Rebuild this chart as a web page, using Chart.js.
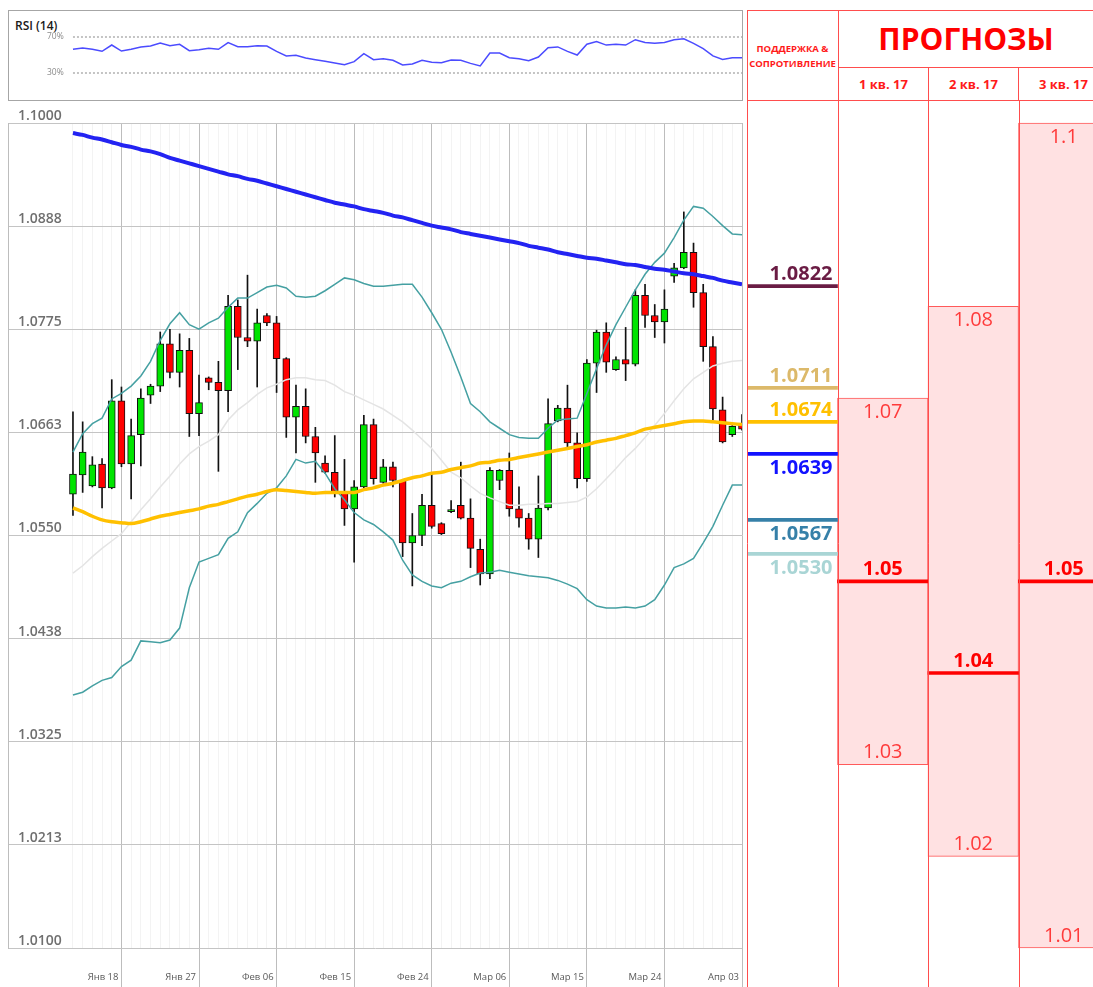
<!DOCTYPE html>
<html lang="ru">
<head>
<meta charset="utf-8">
<title>EUR/USD — поддержка, сопротивление и прогнозы</title>
<script src="https://cdn.jsdelivr.net/npm/chart.js@4.4.1/dist/chart.umd.min.js"></script>
<style>
html, body { margin: 0; padding: 0; background: #fff; }
body { position: relative; width: 1093px; height: 987px; overflow: hidden; font-family: 'Open Sans', 'DejaVu Sans', sans-serif; }
canvas { position: absolute; }
#rsiBox { position: absolute; left: 8px; top: 10px; width: 733px; height: 89px; border: 1px solid #a6a6a6; }
#rsiTitle { position: absolute; left: 15px; top: 17px; font-size: 12px; font-weight: 600; color: #1a1a1a; }
#rsiChart { left: 0; top: 10px; }
#priceChart { left: 0; top: 100px; }
#levelsChart { left: 747px; top: 100px; }
.cell { position: absolute; box-sizing: border-box; display: flex; align-items: center; justify-content: center; text-align: center; color: #ff1a1a; font-weight: 700; border: 0 solid #ff4d4d; }
#hdrFrame { left: 747px; top: 10px; width: 360px; height: 91px; border-width: 1px 0 1px 1px; }
#hdrSR { left: 747px; top: 10px; width: 91px; height: 91px; font-size: 9.5px; line-height: 15px; padding: 0 2px; }
#hdrMain { left: 838px; top: 10px; width: 255px; height: 58px; border-width: 0 0 1px 1px; font-size: 30px; color: #ff0000; }
.hdrQ { top: 67px; width: 90px; height: 34px; border-width: 0 0 0 1px; font-size: 13px; }
</style>
</head>
<body>
<div id="rsiBox"></div>
<div id="rsiTitle">RSI (14)</div>
<canvas id="rsiChart" width="745" height="91"></canvas>
<canvas id="priceChart" width="745" height="887"></canvas>
<div class="cell" id="hdrFrame"></div>
<div class="cell" id="hdrSR"></div>
<div class="cell" id="hdrMain">ПРОГНОЗЫ</div>
<div id="hdrQuarters"></div>
<canvas id="levelsChart" width="362" height="887"></canvas>
<script>
const xTickIndex = [5, 13, 21, 29, 37, 45, 53, 61, 69];
const xTickLabels = ['Янв 18', 'Янв 27', 'Фев 06', 'Фев 15', 'Фев 24', 'Мар 06', 'Мар 15', 'Мар 24', 'Апр 03'];
const yTickValues = [1.01, 1.02125, 1.0325, 1.04375, 1.055, 1.06625, 1.0775, 1.08875, 1.1];
const yTickLabels = ['1.0100', '1.0213', '1.0325', '1.0438', '1.0550', '1.0663', '1.0775', '1.0888', '1.1000'];

const open = [
	1.0595, 1.0616, 1.0604, 1.0628, 1.0602, 1.0697, 1.0628, 1.0660, 1.0703, 1.0713,
	1.0759, 1.0728, 1.0752, 1.0683, 1.0722, 1.0717, 1.0708, 1.0800, 1.0766, 1.0762,
	1.0790, 1.0782, 1.0743, 1.0679, 1.0691, 1.0658, 1.0629, 1.0619, 1.0598, 1.0579,
	1.0603, 1.0671, 1.0608, 1.0625, 1.0610, 1.0542, 1.0550, 1.0583, 1.0563, 1.0576,
	1.0583, 1.0569, 1.0535, 1.0508, 1.0610, 1.0621, 1.0579, 1.0569, 1.0546, 1.0580,
	1.0675, 1.0689, 1.0651, 1.0612, 1.0738, 1.0772, 1.0731, 1.0742, 1.0737, 1.0812,
	1.0790, 1.0783, 1.0833, 1.0842, 1.0859, 1.0815, 1.0756, 1.0687, 1.0660, 1.0671
];
const high = [
	1.0685, 1.0674, 1.0636, 1.0634, 1.0720, 1.0712, 1.0677, 1.0710, 1.0715, 1.0772,
	1.0775, 1.0770, 1.0765, 1.0725, 1.0723, 1.0740, 1.0812, 1.0807, 1.0834, 1.0797,
	1.0792, 1.0789, 1.0744, 1.0714, 1.0710, 1.0668, 1.0637, 1.0659, 1.0633, 1.0610,
	1.0681, 1.0677, 1.0633, 1.0630, 1.0610, 1.0574, 1.0595, 1.0618, 1.0564, 1.0588,
	1.0630, 1.0590, 1.0546, 1.0624, 1.0622, 1.0640, 1.0603, 1.0574, 1.0615, 1.0699,
	1.0692, 1.0714, 1.0662, 1.0742, 1.0774, 1.0782, 1.0745, 1.0777, 1.0818, 1.0824,
	1.0802, 1.0818, 1.0847, 1.0903, 1.0869, 1.0824, 1.0767, 1.0701, 1.0670, 1.0682
];
const low = [
	1.0572, 1.0597, 1.0603, 1.0580, 1.0601, 1.0625, 1.0590, 1.0626, 1.0694, 1.0707,
	1.0722, 1.0712, 1.0658, 1.0659, 1.0709, 1.0620, 1.0685, 1.0731, 1.0756, 1.0712,
	1.0779, 1.0706, 1.0657, 1.0640, 1.0651, 1.0608, 1.0618, 1.0592, 1.0561, 1.0521,
	1.0602, 1.0606, 1.0607, 1.0603, 1.0527, 1.0495, 1.0539, 1.0558, 1.0551, 1.0575,
	1.0568, 1.0515, 1.0496, 1.0503, 1.0600, 1.0571, 1.0559, 1.0535, 1.0526, 1.0578,
	1.0674, 1.0646, 1.0602, 1.0609, 1.0706, 1.0728, 1.0730, 1.0719, 1.0735, 1.0777,
	1.0766, 1.0760, 1.0826, 1.0841, 1.0799, 1.0740, 1.0676, 1.0651, 1.0658, 1.0665
];
const close = [
	1.0617, 1.0641, 1.0627, 1.0602, 1.0697, 1.0628, 1.0659, 1.0700, 1.0713, 1.0759,
	1.0728, 1.0752, 1.0683, 1.0695, 1.0717, 1.0708, 1.0800, 1.0766, 1.0762, 1.0782,
	1.0782, 1.0743, 1.0679, 1.0691, 1.0658, 1.0640, 1.0619, 1.0598, 1.0579, 1.0603,
	1.0671, 1.0612, 1.0625, 1.0610, 1.0542, 1.0550, 1.0583, 1.0560, 1.0552, 1.0576,
	1.0569, 1.0536, 1.0508, 1.0621, 1.0621, 1.0579, 1.0569, 1.0546, 1.0580, 1.0672,
	1.0689, 1.0651, 1.0612, 1.0738, 1.0772, 1.0739, 1.0742, 1.0737, 1.0812, 1.0790,
	1.0783, 1.0797, 1.0842, 1.0859, 1.0815, 1.0756, 1.0688, 1.0652, 1.0669, 1.0666
];
const smaLong = [
	1.0989, 1.0987, 1.0984, 1.0982, 1.0979, 1.0976, 1.0974, 1.0971, 1.0969, 1.0966,
	1.0962, 1.0959, 1.0956, 1.0953, 1.0950, 1.0947, 1.0944, 1.0942, 1.0939, 1.0937,
	1.0934, 1.0931, 1.0928, 1.0925, 1.0922, 1.0919, 1.0916, 1.0913, 1.0911, 1.0909,
	1.0906, 1.0904, 1.0902, 1.0899, 1.0897, 1.0894, 1.0891, 1.0888, 1.0886, 1.0884,
	1.0881, 1.0879, 1.0877, 1.0875, 1.0873, 1.0871, 1.0869, 1.0866, 1.0864, 1.0862,
	1.0859, 1.0857, 1.0855, 1.0853, 1.0852, 1.0850, 1.0848, 1.0846, 1.0845, 1.0843,
	1.0841, 1.0840, 1.0838, 1.0836, 1.0835, 1.0833, 1.0831, 1.0828, 1.0826, 1.0824
];
const smaMid = [
	1.0580, 1.0576, 1.0571, 1.0567, 1.0565, 1.0564, 1.0563, 1.0565, 1.0568, 1.0571,
	1.0573, 1.0575, 1.0577, 1.0579, 1.0582, 1.0584, 1.0587, 1.0590, 1.0593, 1.0595,
	1.0598, 1.0600, 1.0599, 1.0598, 1.0597, 1.0596, 1.0597, 1.0597, 1.0597, 1.0597,
	1.0600, 1.0602, 1.0605, 1.0607, 1.0610, 1.0613, 1.0615, 1.0618, 1.0619, 1.0622,
	1.0624, 1.0626, 1.0629, 1.0630, 1.0632, 1.0633, 1.0635, 1.0637, 1.0639, 1.0641,
	1.0643, 1.0645, 1.0647, 1.0649, 1.0652, 1.0654, 1.0656, 1.0659, 1.0662, 1.0666,
	1.0668, 1.0670, 1.0672, 1.0674, 1.0675, 1.0675, 1.0674, 1.0673, 1.0672, 1.0671
];
const bbUpper = [
	1.0641, 1.0661, 1.0672, 1.0678, 1.0699, 1.0705, 1.0713, 1.0724, 1.0740, 1.0763,
	1.0781, 1.0793, 1.0780, 1.0775, 1.0782, 1.0787, 1.0799, 1.0809, 1.0809, 1.0815,
	1.0821, 1.0823, 1.0820, 1.0811, 1.0810, 1.0811, 1.0817, 1.0824, 1.0831, 1.0829,
	1.0825, 1.0822, 1.0822, 1.0823, 1.0824, 1.0824, 1.0810, 1.0793, 1.0775, 1.0750,
	1.0723, 1.0694, 1.0685, 1.0674, 1.0667, 1.0660, 1.0657, 1.0656, 1.0656, 1.0667,
	1.0676, 1.0677, 1.0678, 1.0705, 1.0732, 1.0758, 1.0780, 1.0799, 1.0818, 1.0835,
	1.0848, 1.0858, 1.0875, 1.0894, 1.0909, 1.0907, 1.0898, 1.0888, 1.0879, 1.0878
];
const bbMiddle = [
	1.0509, 1.0517, 1.0527, 1.0536, 1.0544, 1.0552, 1.0565, 1.0578, 1.0590, 1.0603,
	1.0615, 1.0628, 1.0639, 1.0647, 1.0653, 1.0660, 1.0676, 1.0687, 1.0695, 1.0704,
	1.0711, 1.0715, 1.0720, 1.0722, 1.0722, 1.0720, 1.0719, 1.0714, 1.0707, 1.0703,
	1.0698, 1.0693, 1.0688, 1.0681, 1.0674, 1.0665, 1.0655, 1.0645, 1.0632, 1.0619,
	1.0613, 1.0604, 1.0596, 1.0591, 1.0587, 1.0583, 1.0583, 1.0584, 1.0584, 1.0585,
	1.0585, 1.0586, 1.0587, 1.0592, 1.0601, 1.0612, 1.0623, 1.0635, 1.0645, 1.0657,
	1.0670, 1.0683, 1.0697, 1.0710, 1.0721, 1.0728, 1.0735, 1.0738, 1.0740, 1.0741
];
const bbLower = [
	1.0376, 1.0379, 1.0386, 1.0392, 1.0395, 1.0407, 1.0414, 1.0435, 1.0434, 1.0433,
	1.0436, 1.0449, 1.0493, 1.0521, 1.0525, 1.0529, 1.0547, 1.0554, 1.0575, 1.0585,
	1.0596, 1.0602, 1.0615, 1.0633, 1.0629, 1.0631, 1.0618, 1.0601, 1.0589, 1.0575,
	1.0567, 1.0562, 1.0554, 1.0545, 1.0523, 1.0507, 1.0500, 1.0495, 1.0493, 1.0498,
	1.0500, 1.0505, 1.0509, 1.0510, 1.0512, 1.0510, 1.0508, 1.0506, 1.0505, 1.0504,
	1.0501, 1.0497, 1.0492, 1.0480, 1.0473, 1.0471, 1.0471, 1.0472, 1.0471, 1.0473,
	1.0480, 1.0496, 1.0515, 1.0519, 1.0525, 1.0542, 1.0560, 1.0583, 1.0605, 1.0605
];
const rsi = [
	56.3, 57.8, 56.3, 54.1, 61.1, 54.4, 56.3, 58.9, 60.0, 63.3,
	60.4, 61.9, 54.8, 55.9, 57.4, 56.3, 63.7, 59.3, 59.3, 60.4,
	60.0, 54.0, 48.9, 49.6, 46.7, 44.8, 43.0, 41.1, 39.3, 42.6,
	51.5, 44.8, 45.9, 44.1, 38.9, 40.0, 44.1, 41.9, 41.5, 44.4,
	44.1, 40.7, 37.8, 52.2, 52.2, 47.0, 45.9, 43.7, 47.8, 58.1,
	59.0, 54.0, 50.0, 62.0, 65.0, 61.0, 62.0, 61.0, 67.0, 64.0,
	63.0, 64.0, 67.0, 68.0, 63.0, 57.0, 49.0, 45.0, 47.0, 47.0
];
const rsiLevels = [70, 30];

const srHeader = 'ПОДДЕРЖКА & СОПРОТИВЛЕНИЕ';
const srLevels = [1.0822, 1.0711, 1.0674, 1.0639, 1.0567, 1.0530];
const srColors = ['#6a1c44', '#dcb96a', '#ffc000', '#1212ff', '#3680a8', '#a9d5d5'];
const forecastCols = ['1 кв. 17', '2 кв. 17', '3 кв. 17'];
const forecastHigh = [1.07, 1.08, 1.1];
const forecastMid = [1.05, 1.04, 1.05];
const forecastLow = [1.03, 1.02, 1.01];

const xMin = -6.7;
const xMax = 69;
const pts = arr => arr.map((v, i) => ({ x: i, y: v }));
// mirrored y labels must not reserve room above / below the plot
const flatAxis = s => { s.width = 0; s.paddingTop = 0; s.paddingBottom = 0; };

Chart.defaults.font.family = "'Open Sans', 'DejaVu Sans', sans-serif";

document.getElementById('hdrSR').textContent = srHeader;
forecastCols.forEach((name, i) => {
	const cell = document.createElement('div');
	cell.className = 'cell hdrQ';
	cell.style.left = (838 + i * 90) + 'px';
	cell.textContent = name;
	document.getElementById('hdrQuarters').appendChild(cell);
});

new Chart(document.getElementById('rsiChart'), {
	type: 'line',
	data: {
		datasets: [
			{ label: 'RSI (14)', data: pts(rsi), borderColor: '#4b4bff', borderWidth: 1.5, pointRadius: 0, tension: 0 },
			...rsiLevels.map(v => ({
				label: v + '%',
				data: [{ x: 0, y: v }, { x: rsi.length - 1, y: v }],
				borderColor: '#8a8a8a', borderWidth: 1, borderDash: [2, 2], pointRadius: 0
			}))
		]
	},
	options: {
		responsive: false,
		animation: false,
		layout: { padding: { left: 8, right: 3, top: 0, bottom: 1 } },
		plugins: { legend: { display: false }, tooltip: { enabled: false } },
		scales: {
			x: { type: 'linear', display: false, min: xMin, max: xMax },
			y: {
				min: 0, max: 100,
				afterFit: flatAxis,
				afterBuildTicks: s => { s.ticks = rsiLevels.map(v => ({ value: v })); },
				grid: { display: false },
				border: { display: false },
				ticks: { mirror: true, padding: 39, callback: v => v + '%', color: '#8a8a8a', font: { size: 8.5 } }
			}
		}
	}
});

const bodyColors = close.map((c, i) => c >= open[i] ? '#00e400' : '#ff0000');

new Chart(document.getElementById('priceChart'), {
	type: 'bar',
	data: {
		datasets: [
			{ type: 'line', label: 'SMA long', data: pts(smaLong), borderColor: '#2323f2', borderWidth: 4, pointRadius: 0, cubicInterpolationMode: 'monotone', order: 0 },
			{ type: 'line', label: 'SMA', data: pts(smaMid), borderColor: '#ffc000', borderWidth: 3.5, pointRadius: 0, cubicInterpolationMode: 'monotone', order: 0 },
			{ type: 'line', label: 'BB upper', data: pts(bbUpper), borderColor: '#45a0a2', borderWidth: 1.5, pointRadius: 0, tension: 0, order: 1 },
			{ type: 'line', label: 'BB lower', data: pts(bbLower), borderColor: '#45a0a2', borderWidth: 1.5, pointRadius: 0, tension: 0, order: 1 },
			{ type: 'line', label: 'BB middle', data: pts(bbMiddle), borderColor: '#e4e4e4', borderWidth: 1.5, pointRadius: 0, tension: 0, order: 1 },
			{
				label: 'body',
				data: open.map((o, i) => ({ x: i, y: [o, close[i]] })),
				backgroundColor: bodyColors,
				borderColor: '#111',
				borderWidth: 1,
				borderSkipped: false,
				barThickness: 7,
				minBarLength: 2,
				grouped: false,
				order: 2
			},
			{
				label: 'wick',
				data: low.map((l, i) => ({ x: i, y: [l, high[i]] })),
				backgroundColor: '#111',
				barThickness: 1,
				grouped: false,
				order: 3
			}
		]
	},
	options: {
		responsive: false,
		animation: false,
		layout: { padding: { left: 8, right: 3, top: 23, bottom: 0 } },
		plugins: { legend: { display: false }, tooltip: { enabled: false } },
		scales: {
			x: {
				type: 'linear',
				min: xMin, max: xMax,
				offset: false,
				afterFit: s => { s.height = 39; },
				afterBuildTicks: s => { s.ticks = open.map((_, i) => ({ value: i })); },
				grid: {
					offset: false,
					color: c => xTickIndex.includes(c.tick.value) ? '#bdbdbd' : '#f3f3f3',
					tickColor: c => xTickIndex.includes(c.tick.value) ? '#bdbdbd' : 'rgba(0,0,0,0)',
					tickLength: 39
				},
				border: { display: false },
				ticks: {
					autoSkip: false, maxRotation: 0, minRotation: 0,
					align: 'end', labelOffset: -3, padding: -15,
					color: '#595959', font: { size: 9.5 },
					callback: v => { const k = xTickIndex.indexOf(v); return k >= 0 ? xTickLabels[k] : ''; }
				}
			},
			y: {
				min: 1.01, max: 1.1,
				beginAtZero: false,
				afterFit: flatAxis,
				afterBuildTicks: s => { s.ticks = yTickValues.map(v => ({ value: v })); },
				grid: { color: '#c4c4c4', drawTicks: false },
				border: { display: true, color: '#bdbdbd' },
				ticks: {
					mirror: true, padding: 10, labelOffset: -7,
					color: '#6f6f6f', font: { size: 14, weight: '600' },
					callback: (v, i) => yTickLabels[i]
				}
			}
		}
	}
});

const tableLines = {
	id: 'tableLines',
	afterDatasetsDraw(chart) {
		const { ctx, scales: { x, y } } = chart;
		const colW = x.getPixelForValue(1) - x.getPixelForValue(0);
		const left = x.getPixelForValue(0) - colW / 2;
		ctx.save();
		ctx.strokeStyle = '#ff4d4d';
		ctx.lineWidth = 1;
		for (let i = 0; i < chart.data.labels.length; i++) {
			const px = Math.round(left + i * colW) + 0.5;
			ctx.beginPath();
			ctx.moveTo(px, 0);
			ctx.lineTo(px, chart.height);
			ctx.stroke();
		}
		ctx.textBaseline = 'middle';
		ctx.textAlign = 'right';
		ctx.font = "700 20px 'Open Sans'";
		const lastClose = close[close.length - 1];
		srLevels.forEach((v, i) => {
			const py = y.getPixelForValue(v);
			ctx.fillStyle = srColors[i];
			ctx.fillText(v.toFixed(4), left + colW - 5, v > lastClose ? py - 12 : py + 14);
		});
		ctx.textAlign = 'center';
		forecastCols.forEach((name, i) => {
			const cx = x.getPixelForValue(i + 1);
			ctx.font = "400 20px 'Open Sans'";
			ctx.fillStyle = '#ff3b3b';
			ctx.fillText(String(forecastHigh[i]), cx, y.getPixelForValue(forecastHigh[i]) + 14);
			ctx.fillText(String(forecastLow[i]), cx, y.getPixelForValue(forecastLow[i]) - 12);
			ctx.font = "700 20px 'Open Sans'";
			ctx.fillStyle = '#ff0000';
			ctx.fillText(String(forecastMid[i]), cx, y.getPixelForValue(forecastMid[i]) - 12);
		});
		ctx.restore();
	}
};

const levelSets = srLevels.map((v, i) => ({
	label: v.toFixed(4),
	data: [[v, v]],
	base: v,
	minBarLength: 3,
	backgroundColor: srColors[i],
	borderWidth: 0,
	barPercentage: 1, categoryPercentage: 1, grouped: false,
	order: 0
}));
const targetSets = forecastMid.map((v, i) => ({
	label: forecastCols[i],
	data: [null, ...forecastCols.map((_, k) => k === i ? [v, v] : null)],
	base: v,
	minBarLength: 3,
	backgroundColor: '#ff0000',
	borderWidth: 0,
	barPercentage: 1, categoryPercentage: 1, grouped: false,
	order: 0
}));

new Chart(document.getElementById('levelsChart'), {
	type: 'bar',
	data: {
		labels: [srHeader, ...forecastCols],
		datasets: [
			...levelSets,
			...targetSets,
			{
				label: 'Прогноз',
				data: [null, ...forecastLow.map((lo, i) => [lo, forecastHigh[i]])],
				backgroundColor: '#ffe1e2',
				borderColor: '#ff5a5a',
				borderWidth: 1,
				borderSkipped: false,
				barPercentage: 1, categoryPercentage: 1, grouped: false,
				clip: false,
				order: 1
			}
		]
	},
	options: {
		responsive: false,
		animation: false,
		layout: { padding: { top: 23, bottom: 39, left: 0, right: 0 } },
		plugins: { legend: { display: false }, tooltip: { enabled: false } },
		scales: {
			x: { display: false, offset: true },
			y: { display: false, min: 1.01, max: 1.1, beginAtZero: false }
		}
	},
	plugins: [tableLines]
});
</script>
</body>
</html>
